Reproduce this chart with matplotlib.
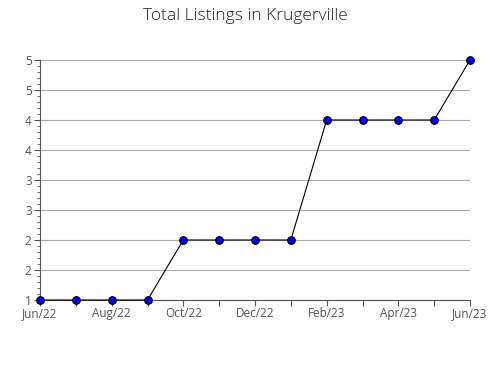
import matplotlib
matplotlib.use("Agg")
import matplotlib.pyplot as plt
from matplotlib.ticker import MultipleLocator, FuncFormatter
import numpy as np

plt.rcParams['font.family'] = ['Open Sans', 'DejaVu Sans']

months = ['Jun/22', 'Jul/22', 'Aug/22', 'Sep/22', 'Oct/22', 'Nov/22', 'Dec/22',
          'Jan/23', 'Feb/23', 'Mar/23', 'Apr/23', 'May/23', 'Jun/23']
listings = [1, 1, 1, 1, 2, 2, 2, 2, 4, 4, 4, 4, 5]

fig = plt.figure(figsize=(4.9, 3.8), dpi=100)
ax = fig.add_axes([40/490, 80/380, 430/490, 240/380])

x = np.arange(len(months))
ax.plot(x, listings, color='black', linewidth=0.8, marker='o', markersize=5.5,
        markerfacecolor='#0000ee', markeredgecolor='black', markeredgewidth=0.8,
        zorder=3, clip_on=False)

ax.set_xlim(0, len(months) - 1)
ax.set_ylim(1, 5)
ax.set_xticks(x)
ax.set_xticklabels([m if i % 2 == 0 else '' for i, m in enumerate(months)])
ax.yaxis.set_major_locator(MultipleLocator(0.5))
ax.yaxis.set_minor_locator(MultipleLocator(0.1))
ax.yaxis.set_major_formatter(FuncFormatter(lambda v, p: '%d' % int(v + 0.5)))

ax.grid(axis='y', color='#aaaaaa', linewidth=0.8)
ax.set_axisbelow(True)
for s in ['top', 'right']:
    ax.spines[s].set_visible(False)
for s in ['left', 'bottom']:
    ax.spines[s].set_color('#555555')
    ax.spines[s].set_linewidth(0.8)
ax.tick_params(axis='both', colors='#555555', labelsize=8.5, length=4, width=0.8)
ax.tick_params(axis='y', which='minor', length=2, color='#555555')
ax.tick_params(axis='x', pad=1)
ax.tick_params(axis='y', pad=2)

fig.text(0.5, 1 - 16/380, 'Total Listings in Krugerville', ha='center', va='center',
         fontsize=12.5, color='#222222', fontweight='light')

fig.savefig('out.png', dpi=100)
